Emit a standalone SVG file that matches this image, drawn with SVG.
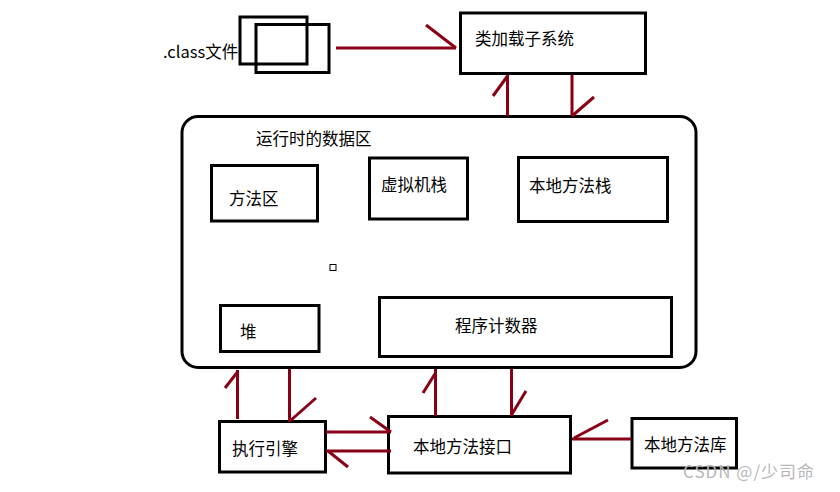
<svg xmlns="http://www.w3.org/2000/svg" width="840" height="492" viewBox="0 0 840 492">
<style>
.box{fill:none;stroke:#000;stroke-width:3}
.t{font-family:"Noto Sans CJK SC","Liberation Sans",sans-serif;font-size:16.5px;fill:#000}
.c line,.c path{stroke:#880015;stroke-width:3;fill:none}
.wm{font-family:"Noto Sans CJK SC","Liberation Sans",sans-serif;font-size:17px;letter-spacing:1px;fill:#b8b8b8}
</style>
<rect width="840" height="492" fill="#fff"/>
<g id="classfile">
<text class="t" x="163" y="58">.class文件</text>
<rect class="box" x="240" y="17" width="67" height="47"/>
<rect class="box" x="256" y="24.5" width="73" height="48"/>
</g>
<g id="classloader">
<rect class="box" x="460.5" y="13" width="185" height="60.5"/>
<text class="t" x="475" y="45">类加载子系统</text>
</g>
<g id="runtime">
<rect class="box" x="182" y="116.5" width="514" height="251" rx="16"/>
<text class="t" x="256" y="145">运行时的数据区</text>
<rect x="330" y="264.5" width="6" height="6" fill="none" stroke="#000" stroke-width="1"/>
</g>
<g id="methodarea">
<rect class="box" x="211.5" y="165.5" width="106" height="55.5"/>
<text class="t" x="229" y="205">方法区</text>
</g>
<g id="vmstack">
<rect class="box" x="369.5" y="158" width="98" height="61"/>
<text class="t" x="381" y="191">虚拟机栈</text>
</g>
<g id="nativestack">
<rect class="box" x="518.5" y="157.5" width="149" height="64"/>
<text class="t" x="529" y="192">本地方法栈</text>
</g>
<g id="heap">
<rect class="box" x="220.5" y="305.5" width="98.5" height="46"/>
<text class="t" x="240" y="338">堆</text>
</g>
<g id="pc">
<rect class="box" x="379.5" y="297.5" width="292" height="59"/>
<text class="t" x="455" y="332">程序计数器</text>
</g>
<g id="engine">
<rect class="box" x="219.5" y="421.5" width="106" height="50.5"/>
<text class="t" x="232" y="455">执行引擎</text>
</g>
<g id="nativeinterface">
<rect class="box" x="388.5" y="416.5" width="182" height="56.5"/>
<text class="t" x="413" y="453">本地方法接口</text>
</g>
<g id="nativelib">
<rect class="box" x="632" y="418.5" width="104.5" height="49.5"/>
<text class="t" x="644" y="451">本地方法库</text>
</g>
<g class="c" id="connectors">
<line x1="336" y1="48" x2="456" y2="48"/><line x1="426" y1="25" x2="456" y2="48"/>
<line x1="507.5" y1="116" x2="507.5" y2="75"/><line x1="493" y1="96" x2="507.5" y2="76"/>
<line x1="572" y1="75" x2="572" y2="116"/><line x1="594" y1="97" x2="572" y2="116"/>
<line x1="237.5" y1="419" x2="237.5" y2="370"/><line x1="225" y1="388" x2="237.5" y2="372"/>
<line x1="289.5" y1="369" x2="289.5" y2="422"/><line x1="316" y1="398" x2="290" y2="421"/>
<line x1="326" y1="432" x2="391" y2="432"/><line x1="370" y1="417" x2="391" y2="432"/>
<line x1="391" y1="451" x2="326" y2="451"/><line x1="348" y1="467" x2="328" y2="451"/>
<line x1="435.5" y1="416" x2="435.5" y2="369"/><line x1="423" y1="393" x2="435.5" y2="373"/>
<line x1="511.5" y1="369" x2="511.5" y2="416"/><line x1="526" y1="391" x2="512" y2="414"/>
<line x1="631" y1="439" x2="572" y2="439"/><line x1="608" y1="420" x2="574" y2="438"/>
</g>
<text class="wm" x="683" y="478">CSDN @/少司命</text>
</svg>
